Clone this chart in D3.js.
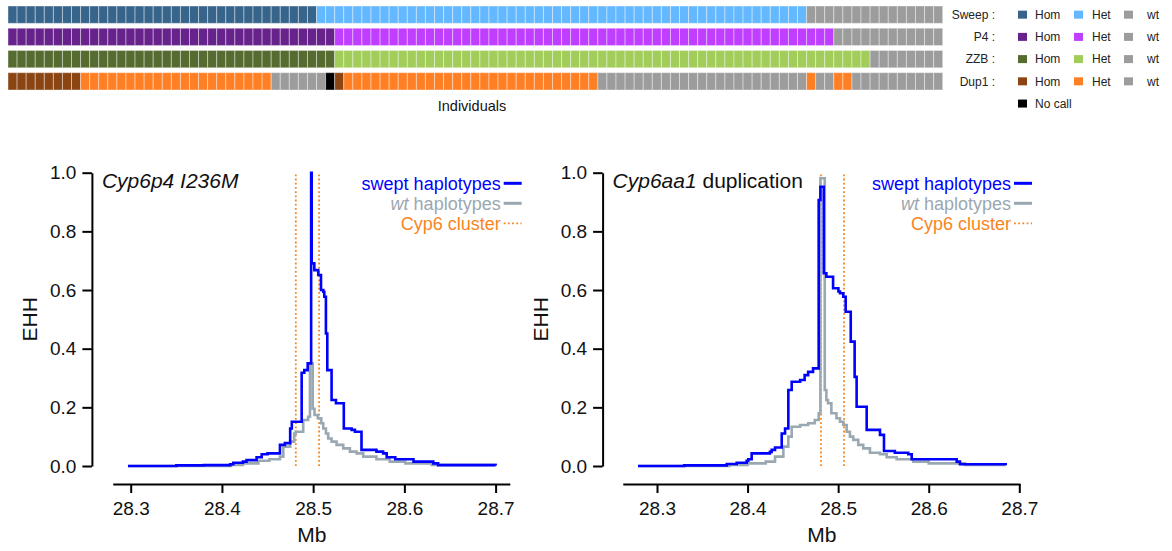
<!DOCTYPE html>
<html><head><meta charset="utf-8">
<script src="https://cdn.jsdelivr.net/npm/d3@7"></script>
<style>
body{margin:0;background:#fff}
svg{display:block}
text{font-family:"Liberation Sans",Arial,Helvetica,sans-serif}
</style>
</head><body>
<svg id="chart" width="1172" height="551"></svg>
<script>
// ---------------- DATA ----------------
const nIndividuals = 103;
const genotypeRows = ["Sweep", "P4", "ZZB", "Dup1"];
const sweepRuns = [["Hom",34],["Het",54],["wt",15]];
const p4Runs    = [["Hom",36],["Het",55],["wt",12]];
const zzbRuns   = [["Hom",36],["Het",59],["wt",8]];
const dup1Runs  = [["Hom",8],["Het",21],["wt",6],["nocall",1],["Hom",1],["Het",28],["wt",23],["Het",1],["wt",2],["Het",2],["wt",10]];
const rowColors = {
  Sweep: {Hom:"#36648B", Het:"#63B8FF"},
  P4:    {Hom:"#68228B", Het:"#BF3EFF"},
  ZZB:   {Hom:"#556B2F", Het:"#A2CD5A"},
  Dup1:  {Hom:"#8B4513", Het:"#FF7F24"}
};
const wtColor = "#9c9c9c", noCallColor = "#000000";

// EHH panel 1: Cyp6p4 I236M
const p1SweptPos = [28.297,28.35,28.38,28.409,28.4125,28.423,28.427,28.438,28.4436,28.450,28.4636,28.469,28.4748,28.4766,28.4874,28.4903,28.4940,28.4978,28.4984,28.5013,28.5056,28.5086,28.5111,28.5122,28.5140,28.5155,28.5202,28.525,28.5336,28.5422,28.5458,28.5530,28.5694,28.5767,28.5806,28.590,28.610,28.6317,28.637,28.700];
const p1SweptEHH = [0.000,0.002,0.003,0.006,0.011,0.015,0.020,0.030,0.040,0.043,0.072,0.078,0.128,0.151,0.318,0.327,0.350,1.000,0.691,0.668,0.651,0.600,0.594,0.577,0.452,0.327,0.225,0.214,0.128,0.123,0.117,0.055,0.049,0.043,0.030,0.023,0.015,0.009,0.003,0.002];
const p1WtPos = [28.297,28.41,28.423,28.440,28.452,28.4636,28.4673,28.4748,28.4792,28.4810,28.4891,28.4945,28.4965,28.4995,28.5015,28.5051,28.5089,28.5111,28.5140,28.5165,28.5202,28.5257,28.5330,28.5403,28.5476,28.5549,28.5694,28.584,28.601,28.630,28.700];
const p1WtEHH = [0.000,0.004,0.009,0.018,0.023,0.032,0.066,0.083,0.111,0.117,0.157,0.168,0.350,0.195,0.174,0.163,0.146,0.128,0.111,0.094,0.083,0.072,0.060,0.049,0.043,0.032,0.023,0.015,0.009,0.004,0.002];

// EHH panel 2: Cyp6aa1 duplication
const p2SweptPos = [28.279,28.33,28.377,28.388,28.399,28.4008,28.4045,28.4247,28.4266,28.4303,28.4377,28.4414,28.445,28.4487,28.458,28.463,28.4669,28.4723,28.4785,28.4804,28.4841,28.4870,28.4944,28.5003,28.5020,28.5057,28.5083,28.5139,28.5182,28.5204,28.5315,28.5462,28.5506,28.5626,28.5774,28.5812,28.6309,28.6345,28.685];
const p2SweptEHH = [0.000,0.002,0.007,0.011,0.018,0.023,0.043,0.048,0.055,0.063,0.111,0.128,0.259,0.287,0.293,0.310,0.321,0.333,0.907,0.952,0.657,0.645,0.606,0.595,0.589,0.577,0.526,0.424,0.304,0.202,0.123,0.106,0.051,0.045,0.040,0.023,0.015,0.006,0.003];
const p2WtPos = [28.279,28.38,28.40,28.42,28.4303,28.4395,28.4450,28.4487,28.4580,28.4669,28.4742,28.4785,28.4804,28.4852,28.4870,28.4888,28.4925,28.4981,28.5020,28.5057,28.5094,28.5130,28.5167,28.5222,28.5277,28.5351,28.5462,28.5536,28.5646,28.5830,28.600,28.640,28.685];
const p2WtEHH = [0.000,0.004,0.009,0.015,0.032,0.066,0.100,0.134,0.140,0.146,0.157,0.180,0.981,0.259,0.225,0.214,0.180,0.163,0.151,0.140,0.117,0.100,0.089,0.072,0.060,0.045,0.040,0.030,0.023,0.015,0.009,0.004,0.002];

const cyp6Cluster = [28.481, 28.5065];
const xTicks = [28.3, 28.4, 28.5, 28.6, 28.7];
const yTicks = [0, 0.2, 0.4, 0.6, 0.8, 1.0];
const legendLabels = ["swept haplotypes", "wt haplotypes", "Cyp6 cluster"];

// ---------------- STYLE ----------------
const BLUE = "#0000ff", GREY = "#9aa8b1", ORANGE = "#f7851f";
const svg = d3.select("#chart");

// ---------------- TOP GENOTYPE PANEL ----------------
function expand(runs){ const out=[]; runs.forEach(([c,n])=>{ for(let i=0;i<n;i++) out.push(c); }); return out; }
const rowsData = {Sweep: expand(sweepRuns), P4: expand(p4Runs), ZZB: expand(zzbRuns), Dup1: expand(dup1Runs)};

const xCell = d3.scaleBand().domain(d3.range(nIndividuals)).range([8, 942.7]).padding(0);
const yRow = d3.scaleBand().domain(genotypeRows).range([6, 90]).paddingInner(0.22);

const topPanel = svg.append("g");
genotypeRows.forEach(r => {
  topPanel.selectAll(null).data(rowsData[r]).enter().append("rect")
    .attr("x", (d,i) => xCell(i))
    .attr("y", yRow(r))
    .attr("width", xCell.bandwidth())
    .attr("height", yRow.bandwidth())
    .attr("fill", d => d === "wt" ? wtColor : d === "nocall" ? noCallColor : rowColors[r][d])
    .attr("stroke", "rgba(255,255,255,0.4)")
    .attr("stroke-width", 1);
});
topPanel.append("text").attr("x", 472).attr("y", 111).attr("text-anchor","middle")
  .attr("font-size", 14.5).attr("fill","#111").text("Individuals");

// legend of genotype panel
const lg = svg.append("g").attr("font-size", 12).attr("fill", "#222");
genotypeRows.forEach(r => {
  const cy = yRow(r) + yRow.bandwidth()/2;
  lg.append("text").attr("x", 995).attr("y", cy).attr("dy","0.35em").attr("text-anchor","end").text(r + " :");
  [["Hom", rowColors[r].Hom, 1018, 1035], ["Het", rowColors[r].Het, 1074, 1092], ["wt", wtColor, 1124, 1147]].forEach(([lab,col,sx,tx]) => {
    lg.append("rect").attr("x", sx).attr("y", cy-4).attr("width", 9).attr("height", 8).attr("fill", col);
    lg.append("text").attr("x", tx).attr("y", cy).attr("dy","0.35em").text(lab);
  });
});
{
  const cy = yRow("Dup1") + yRow.bandwidth()/2 + yRow.step();
  lg.append("rect").attr("x", 1018).attr("y", cy-4).attr("width", 9).attr("height", 8).attr("fill", noCallColor);
  lg.append("text").attr("x", 1035).attr("y", cy).attr("dy","0.35em").text("No call");
}

// ---------------- EHH PANELS ----------------
function drawPanel(cfg) {
  const g = svg.append("g");
  const x = d3.scaleLinear().domain([28.3, 28.7]).range(cfg.xRange);
  const y = d3.scaleLinear().domain([0, 1]).range([466, 172.7]);
  const ext = d3.extent(cfg.sweptPos);
  const pad = 0.04 * (ext[1] - ext[0]);

  // y axis
  const ya = g.append("g").attr("transform", `translate(${cfg.yAxisX},0)`)
    .call(d3.axisLeft(y).tickValues(yTicks).tickFormat(d3.format(".1f")).tickSize(9.5).tickPadding(6).tickSizeOuter(0));
  ya.select(".domain").attr("stroke-width", 2);
  ya.selectAll(".tick line").attr("stroke-width", 2);
  ya.selectAll(".tick text").attr("font-size", 19).attr("fill", "#111").attr("font-family", null);

  // x axis
  const xa = g.append("g").attr("transform", `translate(0,484)`)
    .call(d3.axisBottom(x).tickValues(xTicks).tickFormat(d3.format(".1f")).tickSize(9).tickPadding(9).tickSizeOuter(0));
  xa.select(".domain").remove();
  xa.append("line").attr("x1", x(ext[0]-pad)).attr("x2", x(ext[1]+pad)).attr("y1", 0.5).attr("y2", 0.5)
    .attr("stroke", "#000").attr("stroke-width", 2);
  xa.selectAll(".tick line").attr("stroke-width", 2);
  xa.selectAll(".tick text").attr("font-size", 19).attr("fill", "#111").attr("font-family", null);

  // axis titles
  g.append("text").attr("x", (x(ext[0]-pad) + x(ext[1]+pad))/2).attr("y", 542).attr("text-anchor","middle")
    .attr("font-size", 21).attr("fill","#111").text("Mb");
  g.append("text").attr("transform", `translate(${cfg.yAxisX - 55},${(y(0)+y(1))/2}) rotate(-90)`)
    .attr("text-anchor","middle").attr("font-size", 21).attr("fill","#111").text("EHH");

  // cluster lines
  g.selectAll(null).data(cyp6Cluster).enter().append("line")
    .attr("x1", d => x(d)).attr("x2", d => x(d)).attr("y1", y(0)).attr("y2", y(1))
    .attr("stroke", ORANGE).attr("stroke-width", 1.8).attr("stroke-dasharray", "1.8,2.4");

  const line = d3.line().x(d => x(d[0])).y(d => y(d[1])).curve(d3.curveStepAfter);
  g.append("path").datum(d3.zip(cfg.wtPos, cfg.wtEHH)).attr("d", line)
    .attr("fill","none").attr("stroke", GREY).attr("stroke-width", 2.6);
  g.append("path").datum(d3.zip(cfg.sweptPos, cfg.sweptEHH)).attr("d", line)
    .attr("fill","none").attr("stroke", BLUE).attr("stroke-width", 2.6);

  // title
  const t = g.append("text").attr("x", cfg.yAxisX + 10).attr("y", 187.5).attr("font-size", 21).attr("fill","#111");
  cfg.title.forEach(([s, it]) => t.append("tspan").attr("font-style", it ? "italic" : "normal").text(s));

  // legend
  const lx = cfg.legendX;
  const rowsY = [183.3, 203.3, 223.3];
  const cols = [BLUE, GREY, ORANGE];
  g.append("text").attr("x", lx).attr("y", rowsY[0]).attr("dy","0.35em").attr("text-anchor","end")
    .attr("font-size", 18).attr("fill", BLUE).text(legendLabels[0]);
  const lt1 = g.append("text").attr("x", lx).attr("y", rowsY[1]).attr("dy","0.35em").attr("text-anchor","end")
    .attr("font-size", 18).attr("fill", GREY);
  const parts = legendLabels[1].split(" ");
  lt1.append("tspan").attr("font-style","italic").text(parts[0]);
  lt1.append("tspan").text(" " + parts.slice(1).join(" "));
  g.append("text").attr("x", lx).attr("y", rowsY[2]).attr("dy","0.35em").attr("text-anchor","end")
    .attr("font-size", 18).attr("fill", ORANGE).text(legendLabels[2]);
  rowsY.forEach((ry, i) => {
    g.append("line").attr("x1", lx + 3).attr("x2", lx + 21).attr("y1", ry).attr("y2", ry)
      .attr("stroke", cols[i]).attr("stroke-width", i < 2 ? 3 : 1.8)
      .attr("stroke-dasharray", i < 2 ? null : "1.8,2.4");
  });
}

drawPanel({xRange: [130.7, 495.6], yAxisX: 91.9, legendX: 500.7,
  sweptPos: p1SweptPos, sweptEHH: p1SweptEHH, wtPos: p1WtPos, wtEHH: p1WtEHH,
  title: [["Cyp6p4 I236M", true]]});
drawPanel({xRange: [657, 1019.3], yAxisX: 602.6, legendX: 1011,
  sweptPos: p2SweptPos, sweptEHH: p2SweptEHH, wtPos: p2WtPos, wtEHH: p2WtEHH,
  title: [["Cyp6aa1", true], [" duplication", false]]});
</script>
</body></html>
